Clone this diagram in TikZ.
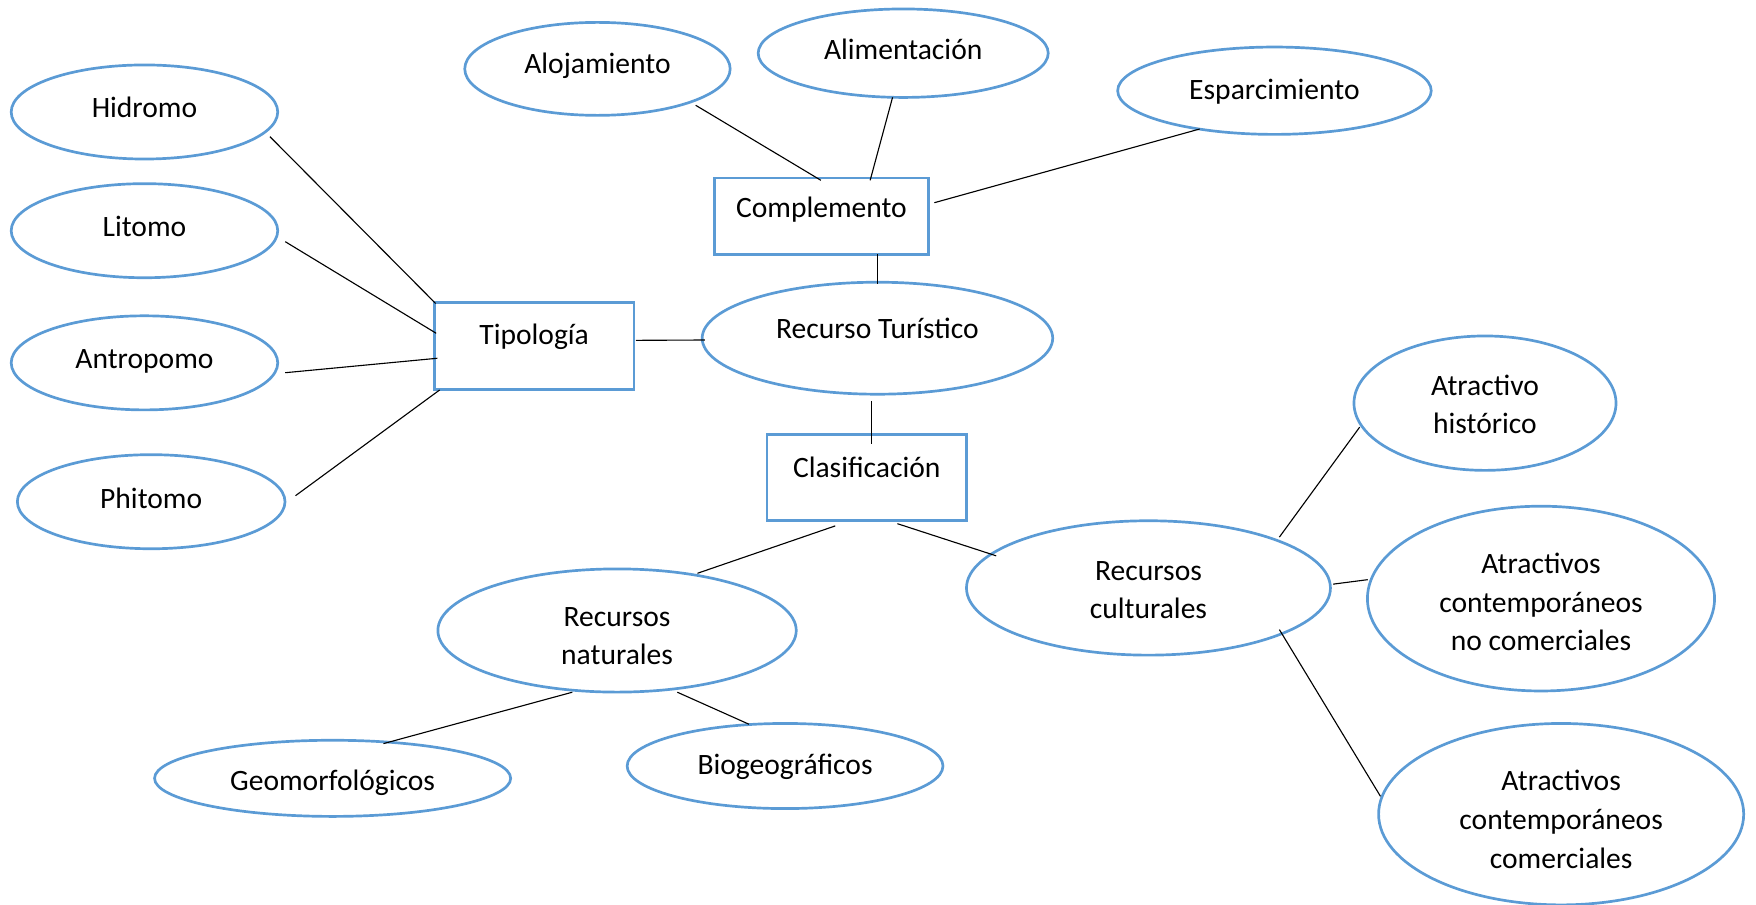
\documentclass[tikz,border=0pt]{standalone}
\usepackage{fontspec}
\setmainfont{Carlito}
\usetikzlibrary{shapes.geometric,calc}
\definecolor{wordblue}{HTML}{5B9BD5}
\begin{document}
\begin{tikzpicture}[x=1pt,y=-1pt,
  oval/.style={ellipse, draw=wordblue, line width=2.4pt, inner sep=0pt},
  box/.style={rectangle, draw=wordblue, line width=2.4pt, inner sep=0pt},
  txt/.style={anchor=base, inner sep=0pt, align=center,
              font=\fontsize{26.4pt}{34.5pt}\selectfont},
  link/.style={draw=black, line width=1pt}]
\useasboundingbox (0,0) rectangle (1568,808);

% ---- shapes ----
\node[oval, minimum width=238pt, minimum height=84pt]  (hid) at (129,100)    {};
\node[oval, minimum width=238pt, minimum height=84pt]  (lit) at (129,206)    {};
\node[oval, minimum width=238pt, minimum height=84pt]  (ant) at (129,324)    {};
\node[oval, minimum width=239pt, minimum height=84pt]  (phi) at (135,448)    {};
\node[oval, minimum width=237pt, minimum height=83pt]  (alo) at (533.5,61.5) {};
\node[oval, minimum width=259pt, minimum height=79pt]  (ali) at (806.5,47.5) {};
\node[oval, minimum width=280pt, minimum height=78pt]  (esp) at (1138,81)    {};
\node[box,  minimum width=191pt, minimum height=68pt]  (com) at (733.5,193)  {};
\node[box,  minimum width=178pt, minimum height=78pt]  (tip) at (477,309)    {};
\node[oval, minimum width=313pt, minimum height=100pt] (rec) at (783.5,302)  {};
\node[box,  minimum width=178pt, minimum height=77pt]  (cla) at (774,426.5)  {};
\node[oval, minimum width=320pt, minimum height=110pt] (nat) at (551,563)    {};
\node[oval, minimum width=325pt, minimum height=120pt] (cul) at (1025.5,525) {};
\node[oval, minimum width=318pt, minimum height=68pt]  (geo) at (297,695)    {};
\node[oval, minimum width=282pt, minimum height=76pt]  (bio) at (701,684)    {};
\node[oval, minimum width=234pt, minimum height=120pt] (his) at (1326,360)   {};
\node[oval, minimum width=310pt, minimum height=165pt] (nco) at (1376,534.5) {};
\node[oval, minimum width=326pt, minimum height=162pt] (cco) at (1394,727)   {};

% ---- texts (anchored on the baseline of the last line) ----
\node[txt] (hidT) at ($(hid)+(0,5)$)     {Hidromo};
\node[txt] (litT) at ($(lit)+(0,5)$)     {Litomo};
\node[txt] (antT) at ($(ant)+(0,5)$)     {Antropomo};
\node[txt] (phiT) at ($(phi)+(0,6)$)     {Phitomo};
\node[txt] (aloT) at ($(alo)+(0,4.5)$)   {Alojamiento};
\node[txt] (aliT) at ($(ali)+(0,5.5)$)   {Alimentación};
\node[txt] (espT) at ($(esp)+(0,7.5)$)   {Esparcimiento};
\node[txt] (comT) at ($(com)+(0,1)$)     {Complemento};
\node[txt] (tipT) at ($(tip)+(0,-1)$)    {Tipología};
\node[txt] (recT) at ($(rec)+(0,0)$)     {Recurso Turístico};
\node[txt] (claT) at ($(cla)+(0,-0.5)$)  {Clasificación};
\node[txt] (natT) at ($(nat)+(0,30.5)$)  {Recursos\\naturales};
\node[txt] (culT) at ($(cul)+(0,27.5)$)  {Recursos\\culturales};
\node[txt] (geoT) at ($(geo)+(0,10.6)$)  {Geomorfológicos};
\node[txt] (bioT) at ($(bio)+(0,7.4)$)   {Biogeográficos};
\node[txt] (hisT) at ($(his)+(0,27.5)$)  {Atractivo\\histórico};
\node[txt] (ncoT) at ($(nco)+(0,46.7)$)  {Atractivos\\contemporáneos\\no comerciales};
\node[txt] (ccoT) at ($(cco)+(0,48.2)$)  {Atractivos\\contemporáneos\\comerciales};

% ---- connectors ----
\draw[link] ($(hid)+(112,22)$)     -- ($(tip)+(-88,-38)$);
\draw[link] ($(lit)+(125.7,9.8)$)  -- ($(tip)+(-87.5,-11.4)$);
\draw[link] ($(ant)+(125.7,8.8)$)  -- ($(tip)+(-86.5,10.9)$);
\draw[link] ($(phi)+(128.9,-5.4)$) -- ($(tip)+(-84.4,39.2)$);
\draw[link] ($(tip)+(90.9,-5.1)$)  -- ($(rec)+(-154,1.6)$);
\draw[link] ($(alo)+(87.7,32.5)$)  -- ($(com)+(-0.5,-32)$);
\draw[link] ($(ali)+(-9.5,39.4)$)  -- ($(com)+(43.5,-32)$);
\draw[link] ($(esp)+(-66.8,34.2)$) -- ($(com)+(100.8,-12)$);
\draw[link] ($(com)+(50.2,34)$)    -- ($(rec)+(0.2,-48.1)$);
\draw[link] ($(rec)+(-5.5,56)$)    -- ($(cla)+(4,-30)$);
\draw[link] ($(cla)+(-28.2,43.1)$) -- ($(nat)+(71.8,-51.1)$);
\draw[link] ($(cla)+(27.3,41.1)$)  -- ($(cul)+(-136,-28.7)$);
\draw[link] ($(nat)+(-40,55.1)$)   -- ($(geo)+(45.4,-31)$);
\draw[link] ($(nat)+(53.8,55.1)$)  -- ($(bio)+(-32.2,-37.3)$);
\draw[link] ($(cul)+(116.9,-45.4)$) -- ($(his)+(-111.9,21.4)$);
\draw[link] ($(cul)+(164.9,-3.4)$) -- ($(nco)+(-154.7,-16.9)$);
\draw[link] ($(cul)+(116.9,37.2)$) -- ($(cco)+(-161.3,-15.9)$);
\end{tikzpicture}
\end{document}
